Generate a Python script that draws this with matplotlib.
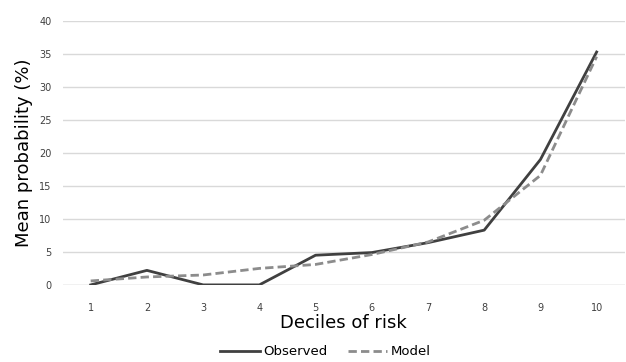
import numpy as np
import matplotlib.pyplot as plt

deciles = ["1", "2", "3", "4", "5", "6", "7", "8", "9", "10"]
observed = [0, 2.2, 0, 0, 4.5, 4.9, 6.4, 8.3, 19.0, 35.3]
model = [0.6, 1.2, 1.5, 2.5, 3.1, 4.6, 6.5, 9.8, 16.6, 34.6]

fig = plt.figure(figsize=(6.26, 3.62), dpi=100)
ax = fig.add_axes([0.1, 0.213, 0.898, 0.729])

x = np.arange(1, len(deciles) + 1)
ax.plot(x, observed, color="#404040", lw=2, label="Observed")
ax.plot(x, model, color="#8c8c8c", lw=2, ls=(0, (3, 1.5)), label="Model")

ax.set_xlim(0.5, 10.5)
ax.set_ylim(0, 40)
ax.set_yticks(range(0, 41, 5))
ax.set_xticks(x)
ax.set_xticklabels(deciles)
ax.yaxis.grid(True, color="#d9d9d9", lw=1)
ax.set_axisbelow(True)
for s in ax.spines.values():
    s.set_visible(False)
ax.axhline(0, color="#d9d9d9", lw=1, zorder=0)
ax.tick_params(axis="y", length=0, labelsize=7, colors="#404040", pad=8)
ax.tick_params(axis="x", length=0, labelsize=7, colors="#404040", pad=13)

ax.set_xlabel("Deciles of risk", fontsize=13, labelpad=1)
ax.set_ylabel("Mean probability (%)", fontsize=13, labelpad=4)
fig.legend(loc="center", bbox_to_anchor=(0.52, 0.028), ncol=2, frameon=False,
           fontsize=9.5, handlelength=3, columnspacing=1.5, handletextpad=0.3,
           borderpad=0)

fig.savefig("out.png", dpi=100)
